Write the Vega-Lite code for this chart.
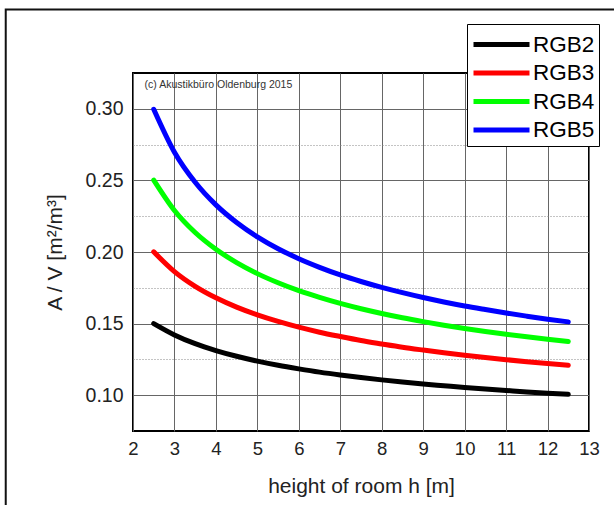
{
"$schema": "https://vega.github.io/schema/vega-lite/v6.json",
"width": 456, "height": 358,
"autosize": {"type": "none"},
"padding": {"left": 133, "top": 73, "right": 25, "bottom": 74},
"background": "white",
"config": {"view": {"stroke": "black", "strokeWidth": 2}, "font": "Liberation Sans"},
"datasets": {
"curves": [
{"h":2.5,"g":"RGB2","v":0.1500},{"h":3,"g":"RGB2","v":0.1421},{"h":3.5,"g":"RGB2","v":0.1360},{"h":4,"g":"RGB2","v":0.1312},{"h":4.5,"g":"RGB2","v":0.1272},{"h":5,"g":"RGB2","v":0.1238},{"h":5.5,"g":"RGB2","v":0.1209},{"h":6,"g":"RGB2","v":0.1184},{"h":6.5,"g":"RGB2","v":0.1161},{"h":7,"g":"RGB2","v":0.1141},{"h":7.5,"g":"RGB2","v":0.1123},{"h":8,"g":"RGB2","v":0.1107},{"h":8.5,"g":"RGB2","v":0.1092},{"h":9,"g":"RGB2","v":0.1078},{"h":9.5,"g":"RGB2","v":0.1066},{"h":10,"g":"RGB2","v":0.1054},{"h":10.5,"g":"RGB2","v":0.1043},{"h":11,"g":"RGB2","v":0.1033},{"h":11.5,"g":"RGB2","v":0.1023},{"h":12,"g":"RGB2","v":0.1014},{"h":12.5,"g":"RGB2","v":0.1006},
{"h":2.5,"g":"RGB3","v":0.2001},{"h":3,"g":"RGB3","v":0.1863},{"h":3.5,"g":"RGB3","v":0.1760},{"h":4,"g":"RGB3","v":0.1680},{"h":4.5,"g":"RGB3","v":0.1615},{"h":5,"g":"RGB3","v":0.1561},{"h":5.5,"g":"RGB3","v":0.1515},{"h":6,"g":"RGB3","v":0.1475},{"h":6.5,"g":"RGB3","v":0.1440},{"h":7,"g":"RGB3","v":0.1410},{"h":7.5,"g":"RGB3","v":0.1382},{"h":8,"g":"RGB3","v":0.1358},{"h":8.5,"g":"RGB3","v":0.1335},{"h":9,"g":"RGB3","v":0.1315},{"h":9.5,"g":"RGB3","v":0.1296},{"h":10,"g":"RGB3","v":0.1279},{"h":10.5,"g":"RGB3","v":0.1263},{"h":11,"g":"RGB3","v":0.1248},{"h":11.5,"g":"RGB3","v":0.1234},{"h":12,"g":"RGB3","v":0.1221},{"h":12.5,"g":"RGB3","v":0.1209},
{"h":2.5,"g":"RGB4","v":0.2502},{"h":3,"g":"RGB4","v":0.2290},{"h":3.5,"g":"RGB4","v":0.2136},{"h":4,"g":"RGB4","v":0.2019},{"h":4.5,"g":"RGB4","v":0.1926},{"h":5,"g":"RGB4","v":0.1849},{"h":5.5,"g":"RGB4","v":0.1785},{"h":6,"g":"RGB4","v":0.1730},{"h":6.5,"g":"RGB4","v":0.1683},{"h":7,"g":"RGB4","v":0.1641},{"h":7.5,"g":"RGB4","v":0.1604},{"h":8,"g":"RGB4","v":0.1571},{"h":8.5,"g":"RGB4","v":0.1541},{"h":9,"g":"RGB4","v":0.1514},{"h":9.5,"g":"RGB4","v":0.1489},{"h":10,"g":"RGB4","v":0.1466},{"h":10.5,"g":"RGB4","v":0.1445},{"h":11,"g":"RGB4","v":0.1426},{"h":11.5,"g":"RGB4","v":0.1408},{"h":12,"g":"RGB4","v":0.1391},{"h":12.5,"g":"RGB4","v":0.1375},
{"h":2.5,"g":"RGB5","v":0.2997},{"h":3,"g":"RGB5","v":0.2697},{"h":3.5,"g":"RGB5","v":0.2487},{"h":4,"g":"RGB5","v":0.2329},{"h":4.5,"g":"RGB5","v":0.2206},{"h":5,"g":"RGB5","v":0.2106},{"h":5.5,"g":"RGB5","v":0.2023},{"h":6,"g":"RGB5","v":0.1953},{"h":6.5,"g":"RGB5","v":0.1893},{"h":7,"g":"RGB5","v":0.1840},{"h":7.5,"g":"RGB5","v":0.1794},{"h":8,"g":"RGB5","v":0.1753},{"h":8.5,"g":"RGB5","v":0.1716},{"h":9,"g":"RGB5","v":0.1682},{"h":9.5,"g":"RGB5","v":0.1651},{"h":10,"g":"RGB5","v":0.1623},{"h":10.5,"g":"RGB5","v":0.1598},{"h":11,"g":"RGB5","v":0.1574},{"h":11.5,"g":"RGB5","v":0.1552},{"h":12,"g":"RGB5","v":0.1531},{"h":12.5,"g":"RGB5","v":0.1512}
],
"note": [{"label": "(c) Akustikbüro Oldenburg 2015"}],
"frame": [{"name": "figure frame"}]
},
"layer": [
{
"data": {"name": "curves"},
"mark": {"type": "line", "strokeWidth": 5, "interpolate": "monotone", "strokeCap": "round"},
"encoding": {
"x": {"field": "h", "type": "quantitative",
"scale": {"domain": [2, 13], "nice": false, "zero": false},
"axis": {"values": [2,2.5,3,3.5,4,4.5,5,5.5,6,6.5,7,7.5,8,8.5,9,9.5,10,10.5,11,11.5,12,12.5,13],
"labelExpr": "datum.value % 1 === 0 ? datum.label : ''",
"labelOverlap": false, "labelFlush": false, "grid": true,
"title": "height of room h [m]", "tickSize": 0, "domain": false,
"labelFontSize": 18.5, "labelPadding": 8, "labelColor": "#222",
"titleFontSize": 21, "titleFontWeight": "normal", "titleColor": "#222", "titlePadding": 18,
"gridWidth": 1, "gridOpacity": 1,
"gridColor": {"condition": {"test": "datum.value % 1 !== 0", "value": "#888"}, "value": "#666"},
"gridDash": {"condition": {"test": "datum.value % 1 !== 0", "value": [1, 2]}, "value": []}}},
"y": {"field": "v", "type": "quantitative",
"scale": {"domain": [0.075, 0.325], "nice": false, "zero": false},
"axis": {"values": [0.1,0.125,0.15,0.175,0.2,0.225,0.25,0.275,0.3],
"labelExpr": "round(datum.value*1000) % 50 === 0 ? format(datum.value, '.2f') : ''",
"labelOverlap": false, "labelFlush": false, "grid": true,
"title": "A / V [m²/m³]", "tickSize": 0, "domain": false,
"labelFontSize": 19.5, "labelPadding": 10, "labelColor": "#222",
"titleFontSize": 21, "titleFontWeight": "normal", "titleColor": "#222", "titlePadding": 20,
"gridWidth": 1, "gridOpacity": 1,
"gridColor": {"condition": {"test": "round(datum.value*1000) % 50 !== 0", "value": "#888"}, "value": "#666"},
"gridDash": {"condition": {"test": "round(datum.value*1000) % 50 !== 0", "value": [1, 2]}, "value": []}}},
"color": {"field": "g", "type": "nominal",
"scale": {"domain": ["RGB2","RGB3","RGB4","RGB5"], "range": ["#000000","#ff0000","#00ff00","#0000ff"]},
"legend": {"orient": "none", "legendX": 334, "legendY": -49, "title": null,
"symbolType": "M-1,0H3", "symbolSize": 784, "symbolStrokeWidth": 5,
"labelFontSize": 22.5, "labelColor": "#000", "labelOffset": 29, "rowPadding": 0.5,
"strokeColor": "black", "fillColor": "white", "padding": 4}}
}
},
{
"data": {"name": "note"},
"mark": {"type": "text", "align": "left", "baseline": "middle", "fontSize": 10.5, "color": "#333"},
"encoding": {
"x": {"datum": 2.28, "type": "quantitative"},
"y": {"datum": 0.3168, "type": "quantitative"},
"text": {"field": "label", "type": "nominal"}
}
},
{
"data": {"name": "frame"},
"mark": {"type": "rect", "filled": false, "fill": "transparent", "fillOpacity": 0, "stroke": "#111", "strokeWidth": 2, "clip": false},
"encoding": {
"x": {"datum": -1.07, "type": "quantitative"},
"x2": {"datum": 14.5},
"y": {"datum": 0.3693, "type": "quantitative"},
"y2": {"datum": 0.0}
}
}
]
}
